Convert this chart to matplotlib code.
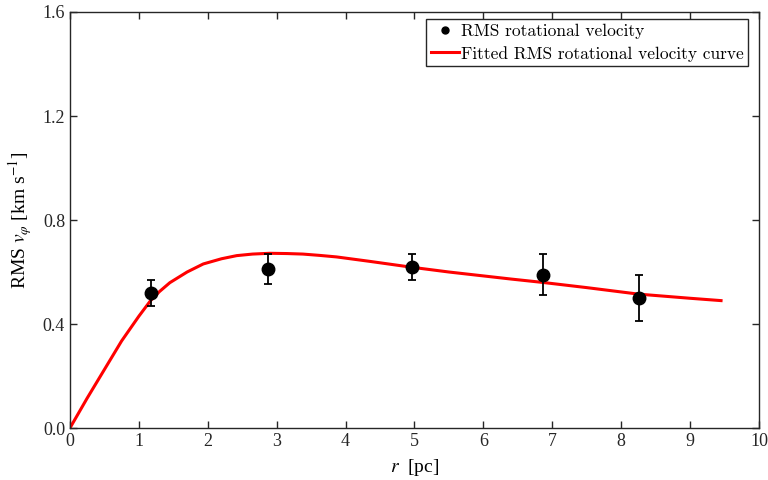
import matplotlib
matplotlib.use('Agg')
import matplotlib.pyplot as plt
from matplotlib.lines import Line2D

plt.rcParams['font.family'] = ['Liberation Serif', 'DejaVu Serif']
plt.rcParams['mathtext.fontset'] = 'stix'

# measured RMS rotational velocity
r_obs = [1.17, 2.88, 4.97, 6.87, 8.26]
v_obs = [0.52, 0.61, 0.62, 0.59, 0.50]
v_err = [0.05, 0.058, 0.05, 0.08, 0.09]

# fitted curve
r_fit = [0, 0.25, 0.5, 0.75, 1.0, 1.17, 1.3, 1.45, 1.7, 1.935, 2.2, 2.42,
         2.65, 2.9, 3.15, 3.38, 3.62, 3.87, 4.35, 4.97, 5.5, 6.0, 6.4, 6.86,
         7.5, 8.25, 9.0, 9.45]
v_fit = [0, 0.115, 0.225, 0.335, 0.43, 0.49, 0.525, 0.559, 0.60, 0.631, 0.651,
         0.663, 0.669, 0.672, 0.671, 0.669, 0.664, 0.658, 0.641, 0.618, 0.60,
         0.585, 0.573, 0.56, 0.54, 0.515, 0.499, 0.49]

fig = plt.figure(figsize=(7.68, 4.8), dpi=100)
ax = fig.add_axes([0.0911, 0.1083, 0.8971, 0.8667])

ax.plot(r_fit, v_fit, color='red', lw=2.2, zorder=2, solid_joinstyle='round')
ax.errorbar(r_obs, v_obs, yerr=v_err, fmt='o', color='black', ms=9,
            capsize=3, elinewidth=1.3, capthick=1.3, zorder=3)

ax.set_xlim(0, 10)
ax.set_ylim(0, 1.6)
ax.set_xticks(range(0, 11))
ax.set_yticks([0.0, 0.4, 0.8, 1.2, 1.6])
ax.set_yticklabels(['0.0', '0.4', '0.8', '1.2', '1.6'])
ax.tick_params(direction='in', top=True, right=True, labelsize=13, length=5,
               width=1, colors='#262626', labelcolor='#262626')
for s in ax.spines.values():
    s.set_color('#262626')
    s.set_linewidth(1.0)

ax.set_xlabel(r'$r$  [pc]', fontsize=14, labelpad=5)
ax.set_ylabel(r'RMS $v_\varphi$ [km s$^{-1}$]', fontsize=14, labelpad=6)

handles = [Line2D([], [], marker='o', color='black', ls='none', ms=5),
           Line2D([], [], color='red', lw=2.2)]
labels = ['RMS rotational velocity', 'Fitted RMS rotational velocity curve']
leg = ax.legend(handles, labels, loc='upper right',
                bbox_to_anchor=(0.9845, 0.983), borderaxespad=0,
                fancybox=False, edgecolor='#262626', framealpha=1,
                borderpad=0.25, handlelength=1.6, handletextpad=0.15,
                labelspacing=0.4, prop={'family': 'cmr10', 'size': 12.5})
leg.get_frame().set_linewidth(1.0)

fig.savefig('out.png', dpi=100)
